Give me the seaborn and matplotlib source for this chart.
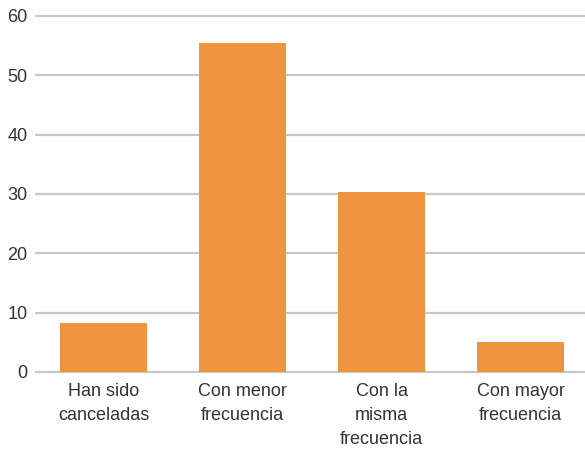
import pandas as pd
import matplotlib
matplotlib.use("Agg")
import matplotlib.pyplot as plt
import seaborn as sns

# -----------------------------
# Data
# -----------------------------
categories = ["Han sido\ncanceladas", "Con menor\nfrecuencia",
              "Con la\nmisma\nfrecuencia", "Con mayor\nfrecuencia"]
values = [8.3, 55.5, 30.4, 5.1]
y_ticks = [0, 10, 20, 30, 40, 50, 60]

df = pd.DataFrame({"Categoria": categories, "Valor": values})

# -----------------------------
# Style
# -----------------------------
sns.set_style("white")
plt.rcParams['font.family'] = ['Liberation Sans Narrow', 'Liberation Sans', 'DejaVu Sans']

fig = plt.figure(figsize=(5.85, 4.54), dpi=100)
ax = fig.add_axes([36 / 585, 1 - 372 / 454, 1 - 36 / 585, (372 - 16) / 454])

sns.barplot(data=df, x="Categoria", y="Valor", color="#F0953F",
            width=0.626, saturation=1, linewidth=0, ax=ax, zorder=3)

ax.set_ylim(0, 60)
ax.set_xlim(-0.486, 3.464)
ax.set_yticks(y_ticks)
ax.yaxis.grid(True, color="#c8c8c8", linewidth=1.6, zorder=0)
for gl in ax.get_ygridlines():
    gl.set_clip_on(False)
ax.set_axisbelow(True)
for s in ax.spines.values():
    s.set_visible(False)
ax.tick_params(axis="both", length=0, labelsize=13, colors="#333333")
ax.tick_params(axis="y", pad=6)
ax.tick_params(axis="x", pad=8)
for lbl in ax.get_xticklabels():
    lbl.set_linespacing(1.55)
ax.set_xlabel("")
ax.set_ylabel("")

fig.savefig("out.png", dpi=100)
